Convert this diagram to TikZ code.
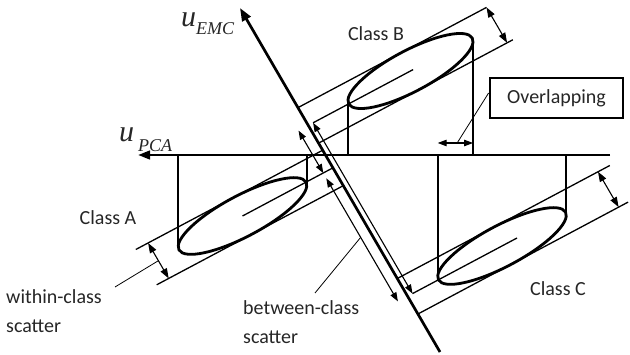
\documentclass[tikz,border=0pt]{standalone}
\usepackage{fontspec}
\setmainfont{Carlito}
\newfontfamily\timesfont{Liberation Serif}
\usetikzlibrary{arrows.meta,calc}
\begin{document}
\begin{tikzpicture}[x=1pt,y=-1pt,
  axisline/.style={line width=2.7pt},
  ell/.style={line width=2.8pt},
  proj/.style={line width=2pt},
  scat/.style={line width=1.3pt},
  dblarrow/.style={line width=1.1pt,{Triangle[length=10pt,width=7pt]}-{Triangle[length=10pt,width=7pt]}},
  betarrow/.style={line width=1.1pt,{Triangle[length=9pt,width=6.5pt]}-{Triangle[length=9pt,width=6.5pt]}},
  ptr/.style={line width=0.8pt},
  lbl/.style={font=\fontsize{20}{29}\selectfont, text=black!85, inner sep=0pt},
  ulbl/.style={font=\timesfont\itshape\fontsize{30}{30}\selectfont, text=black!85, inner sep=0pt, anchor=base west},
]
\useasboundingbox (0,0) rectangle (630,355);
\fill[white] (0,0) rectangle (630,355);

% axes coordinates
\coordinate (emcT) at (240,8);
\coordinate (emcB) at (440,352);
\coordinate (pcaR) at (610,155);
\coordinate (pcaL) at (138,155);

% ---------- Class B ----------
\coordinate (Cb) at (410.5,71);
\coordinate (bTp) at (400.9,52.9);
\coordinate (bTe) at (486.5,7.4);
\coordinate (bBp) at (420.1,89.1);
\coordinate (bBe) at (512.8,39.8);
\coordinate (bCe) at (413.1,69.6);
\coordinate (bTa) at (intersection of emcT--emcB and bTp--bTe);
\coordinate (bBa) at (intersection of emcT--emcB and bBp--bBe);
\coordinate (Rtop) at (313.1,122.8);
\coordinate (bW2) at (507.1,42.8);
\draw[scat] (bTa) -- (bTe);
\draw[scat] (bBa) -- (bBe);
\draw[scat] (Rtop) -- (bCe);
\draw[dblarrow] (bTe) -- (bW2);

% ---------- Class A ----------
\coordinate (Ca) at (242.5,216);
\coordinate (aTp) at (232.9,197.9);
\coordinate (aTe) at (135.8,249.5);
\coordinate (aBp) at (252.1,234.1);
\coordinate (aBe) at (156.7,284.8);
\coordinate (aCp) at (286.6,192.5);
\coordinate (aTa) at (intersection of emcT--emcB and aTp--aTe);
\coordinate (aBa) at (intersection of emcT--emcB and aBp--aBe);
\coordinate (aCa) at (intersection of emcT--emcB and Ca--aCp);
\coordinate (aW1) at (148.1,243.0);
\coordinate (aW2) at (168.7,278.4);
\draw[scat] (aTe) -- (aTa);
\draw[scat] (aBe) -- (aBa);
\draw[scat] (Ca) -- (aCa);
\draw[dblarrow] (aW1) -- (aW2);

% ---------- Class C ----------
\coordinate (Cc) at (502,246);
\coordinate (cTp) at (492.4,227.9);
\coordinate (cTe) at (609.8,165.5);
\coordinate (cBp) at (511.6,264.1);
\coordinate (cBe) at (628.1,202.1);
\coordinate (cCe) at (517,238);
\coordinate (cTa) at (intersection of emcT--emcB and cTp--cTe);
\coordinate (cBa) at (intersection of emcT--emcB and cBp--cBe);
\coordinate (Rbot) at (412.5,293.6);
\coordinate (cW1) at (598,171.7);
\coordinate (cW2) at (618.6,207.1);
\draw[scat] (cTa) -- (cTe);
\draw[scat] (cBa) -- (cBe);
\draw[scat] (Rbot) -- (cCe);
\draw[dblarrow] (cW1) -- (cW2);

% ---------- between-class arrows ----------
\coordinate (L1a) at (298.5,130.6);
\coordinate (L1b) at (323.3,173.1);
\coordinate (L2a) at (326.3,178.3);
\coordinate (L2b) at (397.9,301.4);
\draw[betarrow] (L1a) -- (L1b);
\draw[betarrow] (L2a) -- (L2b);
\draw[betarrow] (Rtop) -- (Rbot);

% ---------- PCA projections ----------
\coordinate (bL) at (347.95,100.7);
\coordinate (bR) at (473.05,41.3);
\coordinate (aL) at (178.2,246.7);
\coordinate (aR) at (306.8,185.3);
\coordinate (cL) at (437.7,276.7);
\coordinate (cR) at (566.3,215.3);
\draw[proj] (bL |- pcaR) -- (bL);
\draw[proj] (bR |- pcaR) -- (bR);
\draw[proj] (aL |- pcaR) -- (aL);
\draw[proj] (aR |- pcaR) -- (aR);
\draw[proj] (cL |- pcaR) -- (cL);
\draw[proj] (cR |- pcaR) -- (cR);

% ---------- ellipses ----------
\draw[ell, rotate around={28:(Cb)}] (Cb) ellipse [x radius=70pt, y radius=20.5pt];
\draw[ell, rotate around={28:(Ca)}] (Ca) ellipse [x radius=72pt, y radius=20.5pt];
\draw[ell, rotate around={28:(Cc)}] (Cc) ellipse [x radius=72pt, y radius=20.5pt];

% ---------- axes ----------
\draw[axisline, -{Triangle[length=13pt,width=9.5pt]}] (emcB) -- (emcT);
\draw[axisline, -{Triangle[length=12pt,width=8.5pt]}] (pcaR) -- (pcaL);

% ---------- overlapping ----------
\coordinate (ovL) at (437.7,143);
\coordinate (ovR) at (473.05,143);
\draw[line width=1.1pt,{Triangle[length=9pt,width=6.5pt]}-{Triangle[length=9pt,width=6.5pt]}] (ovL) -- (ovR);
\node[lbl, draw=black, line width=2.8pt, minimum width=133pt, minimum height=40pt] (ovl) at (556.5,98) {Overlapping};
\draw[ptr] ($(ovL)!0.55!(ovR)$) -- ($(ovl.west)+(0,-5)$);

% ---------- labels ----------
\node[lbl] (clB) at (376,34) {Class B};
\node[lbl] (clA) at (108,218) {Class A};
\node[lbl] (clC) at (558,289) {Class C};
\node[lbl, align=left, anchor=north west] (wlab) at (6,289) {within-class\\scatter};
\node[lbl, align=left, anchor=north west] (blab) at (243,300) {between-class\\scatter};
\coordinate (wptr) at (115,287);
\coordinate (bptr) at (315,293);
\draw[ptr] (wptr) -- ($(aW1)!0.5!(aW2)$);
\draw[ptr] (bptr) -- ($(L2a)!0.48!(L2b)$);

\node[ulbl] (uemc) at (181,27) {u\raisebox{-8pt}{\fontsize{18}{18}\selectfont EMC}};
\node[ulbl] (upca) at (119,142) {u\hspace{4pt}\raisebox{-10pt}{\fontsize{18}{18}\selectfont PCA}};
\end{tikzpicture}
\end{document}
